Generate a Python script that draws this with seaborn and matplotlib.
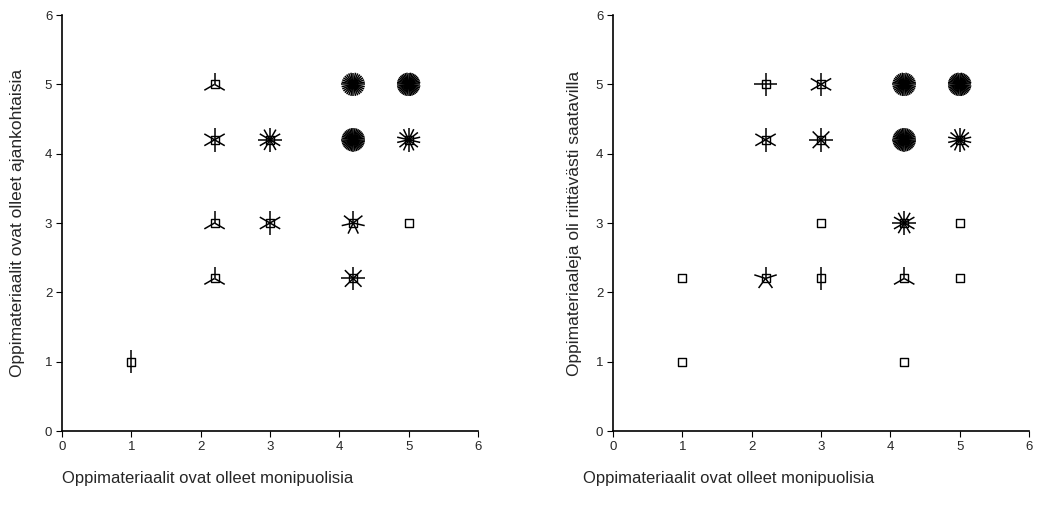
import matplotlib.pyplot as plt
import numpy as np
import pandas as pd
import seaborn as sns

# left chart: cell positions and number of cases (petals)
x_left = [1, 2.2, 2.2, 2.2, 2.2, 3, 3, 4.2, 4.2, 4.2, 4.2, 5, 5, 5]
y_left = [1, 2.2, 3, 4.2, 5, 3, 4.2, 2.2, 3, 4.2, 5, 3, 4.2, 5]
n_left = [2, 3, 3, 6, 3, 6, 12, 8, 7, 40, 32, 1, 14, 40]

# right chart
x_right = [1, 1, 2.2, 2.2, 2.2, 3, 3, 3, 3, 4.2, 4.2, 4.2, 4.2, 4.2, 5, 5, 5, 5]
y_right = [1, 2.2, 2.2, 4.2, 5, 2.2, 3, 4.2, 5, 1, 2.2, 3, 4.2, 5, 2.2, 3, 4.2, 5]
n_right = [1, 1, 5, 6, 4, 2, 1, 8, 6, 1, 3, 12, 40, 36, 1, 1, 14, 40]

ticks = [0, 1, 2, 3, 4, 5, 6]
xlabel = "Oppimateriaalit ovat olleet monipuolisia"
ylabel_left = "Oppimateriaalit ovat olleet ajankohtaisia"
ylabel_right = "Oppimateriaaleja oli riittävästi saatavilla"

sns.set_theme(style="ticks")
plt.rcParams['font.family'] = ['Liberation Sans', 'DejaVu Sans']

fig = plt.figure(figsize=(10.41, 5.13), dpi=100)
ax1 = fig.add_axes([62 / 1041, 82 / 513, 416 / 1041, 416 / 513])
ax2 = fig.add_axes([613 / 1041, 82 / 513, 416 / 1041, 416 / 513])


def sunflower(ax, xs, ys, ns, radius=0.17):
    df = pd.DataFrame({'x': xs, 'y': ys, 'n': ns})
    # centre marker first, petals drawn over it
    sns.scatterplot(data=df, x='x', y='y', ax=ax, marker='s', s=30,
                    facecolor='white', edgecolor='black', linewidth=1.0,
                    zorder=2, legend=False)
    # petals: one line per case, first one pointing up
    for _, row in df.iterrows():
        n = int(row['n'])
        if n < 2:
            continue
        ang = np.deg2rad(90 + 360 * np.arange(n) / n)
        for a in ang:
            ax.plot([row['x'], row['x'] + radius * np.cos(a)],
                    [row['y'], row['y'] + radius * np.sin(a)],
                    color='black', lw=1.1, solid_capstyle='butt', zorder=3)


for ax, xs, ys, ns in [(ax1, x_left, y_left, n_left), (ax2, x_right, y_right, n_right)]:
    sunflower(ax, xs, ys, ns)
    ax.set_xlim(0, 6)
    ax.set_ylim(0, 6)
    ax.set_xticks(ticks)
    ax.set_yticks(ticks)
    ax.set_xlabel('')
    ax.set_ylabel('')
    ax.tick_params(labelsize=9.5, length=4, width=0.8, color='black', pad=3)
    for side in ['top', 'right']:
        ax.spines[side].set_visible(False)
    for side in ['left', 'bottom']:
        ax.spines[side].set_color('black')
        ax.spines[side].set_linewidth(1.2)

fig.text(62 / 1041, 1 - 478 / 513, xlabel, fontsize=12, ha='left', va='center')
fig.text(583 / 1041, 1 - 478 / 513, xlabel, fontsize=12, ha='left', va='center')
fig.text(18 / 1041, 1 - 223 / 513, ylabel_left, fontsize=12.5, rotation=90,
         ha='center', va='center')
fig.text(575 / 1041, 1 - 223 / 513, ylabel_right, fontsize=12.5, rotation=90,
         ha='center', va='center')

fig.savefig("out.png", dpi=100)
